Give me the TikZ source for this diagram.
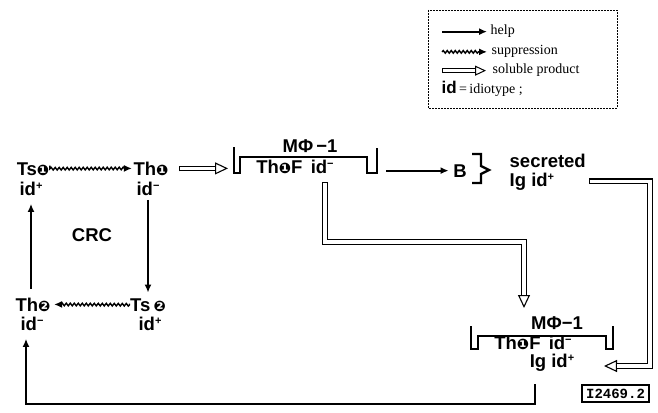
\documentclass[tikz,border=0pt]{standalone}
\usepackage{fontspec}
\setmainfont{Liberation Serif}
\newfontfamily\labfont{Liberation Sans}
\newfontfamily\dingfont{DejaVu Sans}
\newfontfamily\codefont{Liberation Mono}
\usetikzlibrary{arrows.meta,positioning,calc,decorations.pathmorphing}
\newcommand{\dotone}{{\dingfont\fontsize{14.5}{14.5}\selectfont ❶}}
\newcommand{\dottwo}{{\dingfont\fontsize{14.5}{14.5}\selectfont ❷}}
\newcommand{\idplus}{id\raisebox{5.5pt}{\fontsize{11}{11}\selectfont +}}
\newcommand{\idminus}{id\raisebox{5.5pt}{\fontsize{11}{11}\selectfont −}}
\newcommand{\soluble}[1]{\draw[solhead] #1; \draw[solline] #1;}

\begin{document}
\begin{tikzpicture}[x=1pt,y=-1pt,>=Latex,
  every node/.style={inner sep=0.5pt},
  cell/.style={font=\labfont\bfseries\fontsize{18.5}{20}\selectfont,anchor=base},
  legtext/.style={font=\fontsize{14}{16}\selectfont,anchor=base west},
  help/.style={line width=1.8pt,-{Latex[length=8pt,width=7pt]}},
  supp/.style={line width=1.4pt,-{Latex[length=8pt,width=7pt]},decorate,
    decoration={snake,amplitude=1.3pt,segment length=4pt,post length=7pt}},
  solhead/.style={line width=1.1pt,{Bar[width=5.8pt]}-{Triangle[open,length=13pt,width=12pt]}},
  solline/.style={double,double distance=3.4pt,line width=1.2pt,shorten <=1.1pt,shorten >=13pt},
  membrane/.style={line width=2.6pt}]
\useasboundingbox (0,0) rectangle (658,412);

% legend
\draw[dash pattern=on 1.6pt off 1.4pt,line width=0.7pt] (428,10) rectangle (617,108);
\node[legtext] (lhelp) at (490,35) {help};
\node[legtext] (lsupp) at (491,55) {suppression};
\node[legtext] (lsol) at (492,74) {soluble product};
\node[legtext] (lid) at (441,93) {{\labfont\bfseries\fontsize{17}{17}\selectfont id}\,=\,idiotype ;};
\draw[help] ([xshift=-48pt]lhelp.west) -- ([xshift=-3pt]lhelp.west);
\draw[supp] ([xshift=-49pt]lsupp.west) -- ([xshift=-4pt]lsupp.west);
\draw[line width=1pt,{Bar[width=5pt]}-{Triangle[open,length=11pt,width=10pt]}] ([xshift=-50pt]lsol.west) -- ([xshift=-6pt]lsol.west);
\draw[double,double distance=2.6pt,line width=1pt,shorten <=1pt,shorten >=11pt] ([xshift=-50pt]lsol.west) -- ([xshift=-6pt]lsol.west);

% CRC loop
\node[cell] (ts1) at (33,175) {Ts\dotone};
\node[cell] (ts1id) at (31,195) {\idplus};
\node[cell] (th1) at (151,175) {Th\dotone};
\node[cell] (th1id) at (148,195) {\idminus};
\node[cell] (th2) at (33,311) {Th\dottwo};
\node[cell] (th2id) at (32,330) {\idminus};
\node[cell] (ts2) at (148,311) {Ts\,\dottwo};
\node[cell] (ts2id) at (150,330) {\idplus};
\node[cell] (crc) at (92,241) {CRC};
\draw[supp,shorten <=3pt,shorten >=1pt] (ts1.east) -- (th1.west);
\draw[help,shorten <=4pt,shorten >=5pt] (th1id.south) -- (th1id.south |- ts2.north);
\draw[supp,shorten <=1pt,shorten >=3pt] (ts2.west) -- (th2.east);
\draw[help,shorten <=8pt,shorten >=8pt] (th2.north -| ts1id.south) -- (ts1id.south);

% first macrophage
\node[cell] (m1top) at (310,152) {MΦ\,−1};
\node[cell] (m1bot) at (295,173) {Th\dotone F\, \idminus};
\draw[membrane] (234,147) -- (234,173) -- (240,173) -- (240,157) -- (367,157) -- (367,173) -- (377,173) -- (377,148);
\coordinate (m1in) at (228,0);
\coordinate (m1out) at (386,0);
\coordinate (m1dn) at (325,182);
\soluble{([xshift=10pt]th1.east) -- (th1.east -| m1in)}

% B cell
\node[cell] (bcell) at (460,177) {B};
\draw[help,shorten >=4pt] (bcell.west -| m1out) -- (bcell.west);
\draw[line width=2.4pt] (472,154) -- (481,154) -- (481,166) -- (489,170) -- (481,174) -- (481,183) -- (472,183);
\node[cell,anchor=base west] (secr) at (509,167) {secreted};
\node[cell,anchor=base west] (igsec) at (509,186) {Ig \idplus};

% second macrophage
\node[cell] (m2top) at (557,329) {MΦ−1};
\node[cell] (m2bot) at (533,349) {Th\dotone F\, \idminus};
\node[cell] (m2ig) at (552,367) {Ig \idplus};
\draw[membrane] (471,326) -- (471,349) -- (478,349) -- (478,336) -- (606,336) -- (606,349) -- (613,349) -- (613,326);
\coordinate (m2tip) at (524,308);
\coordinate (mid) at (420,242);
\coordinate (rcorner) at (650,366);
\coordinate (m2tipr) at (604,366);
\soluble{(m1dn) |- (mid) -| (m2tip)}
\soluble{([xshift=34pt]igsec.east) -| (rcorner) -- (m2tipr)}

% back to Th2
\coordinate (m2out) at (535,384);
\coordinate (retc) at (535,404);
\draw[help,shorten >=8pt] (m2out) -- (retc) -| ([xshift=-6pt]th2id.south);

\node[draw,line width=1.2pt,font=\codefont\bfseries\fontsize{14}{14}\selectfont,minimum width=67pt,minimum height=17pt,inner sep=1pt] (code) at (615.5,393.5) {I2469.2};
\end{tikzpicture}
\end{document}
